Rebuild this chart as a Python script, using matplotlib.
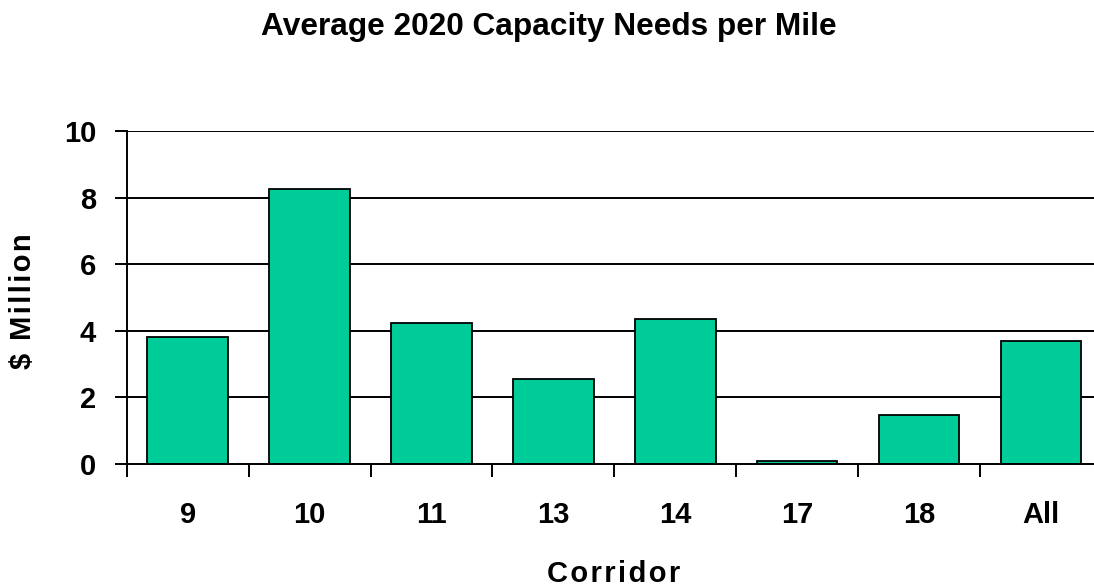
import numpy as np
import matplotlib.pyplot as plt
from matplotlib.ticker import FixedLocator, NullFormatter, FixedFormatter

corridors = ['9', '10', '11', '13', '14', '17', '18', 'All']
cost_per_mile = [3.82, 8.26, 4.24, 2.56, 4.36, 0.10, 1.48, 3.70]
yticks = [0, 2, 4, 6, 8, 10]

plt.rcParams['font.family'] = ['Liberation Sans', 'DejaVu Sans']
plt.rcParams['font.weight'] = 'bold'

fig = plt.figure(figsize=(10.94, 5.88), dpi=100)
ax = fig.add_axes([0.1158, 0.2109, 0.8915, 0.5663])

x = np.arange(len(corridors))
ax.bar(x, cost_per_mile, width=0.66, color='#00CC99', edgecolor='black',
       linewidth=1.3, zorder=3)

ax.set_xlim(-0.5, len(corridors) - 0.5)
ax.set_ylim(0, 10)

# gridlines as plain black rules
for v in yticks[1:]:
    ax.axhline(v, color='black', linewidth=1.4, zorder=1)

ax.spines['top'].set_visible(False)
ax.spines['right'].set_visible(False)
ax.spines['left'].set_linewidth(1.4)
ax.spines['bottom'].set_linewidth(1.4)
ax.spines['bottom'].set_zorder(4)

ax.set_yticks(yticks)
ax.set_yticklabels([str(v) for v in yticks], fontsize=21, fontweight='bold')
ax.tick_params(axis='y', direction='out', length=9, width=1.4, pad=13)

# ticks between categories, labels in the middle
ax.xaxis.set_major_locator(FixedLocator(np.arange(len(corridors) + 1) - 0.5))
ax.xaxis.set_major_formatter(NullFormatter())
ax.xaxis.set_minor_locator(FixedLocator(x))
ax.xaxis.set_minor_formatter(FixedFormatter(corridors))
ax.tick_params(axis='x', which='major', direction='out', length=9, width=1.4)
ax.tick_params(axis='x', which='minor', length=0, pad=27, labelsize=21)
for lbl in ax.get_xticklabels(minor=True):
    lbl.set_fontweight('bold')

spaced = lambda s: '\u200a'.join(s)
fig.text(0.502, 1 - 35 / 588, 'Average 2020 Capacity Needs per Mile',
         ha='center', va='baseline', fontsize=22.8, fontweight='bold')
fig.text(0.5613, 1 - 582 / 588, spaced('Corridor'), ha='center',
         va='baseline', fontsize=21, fontweight='bold')
fig.text(0.0206, 1 - 301 / 588, spaced('$ Million'), ha='center',
         va='center', rotation=90, fontsize=21, fontweight='bold')

fig.savefig('out.png', dpi=100)
